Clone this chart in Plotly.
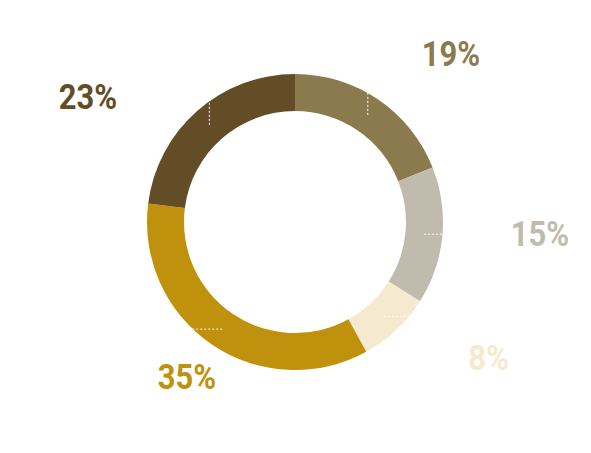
import math
import plotly.graph_objects as go

W, H = 591, 453

labels = ["A", "B", "C", "D", "E"]
values = [19, 15, 8, 35, 23]
colors = ["#8B7A4E", "#C1BBAE", "#F5EAD0", "#C0910C", "#624D26"]
label_text = ["19%", "15%", "8%", "35%", "23%"]

# label anchor positions (pixels, from top-left)
label_pos = [(451, 54), (540, 234), (488, 358), (187, 377), (88, 97)]

cx, cy, R, r_in = 295, 222, 148, 111
hole = r_in / R

fig = go.Figure(go.Pie(
    labels=labels, values=values, sort=False, direction="clockwise", rotation=0,
    hole=hole, marker=dict(colors=colors, line=dict(width=0)),
    textinfo="none", hoverinfo="none", showlegend=False,
    domain=dict(x=[(cx - R) / W, (cx + R) / W], y=[(H - cy - R) / H, (H - cy + R) / H]),
))

def px(x, y):
    return x / W, 1 - y / H

shapes = []
annotations = []
total = sum(values)
cum = 0
for i, v in enumerate(values):
    mid = (cum + v / 2) / total * 2 * math.pi
    cum += v
    rm = (R + r_in) / 2
    sx = cx + rm * math.sin(mid)
    sy = cy - rm * math.cos(mid)
    lx, ly = label_pos[i]
    if ly < cy - R * 0.5:
        pts = [(sx, sy), (sx, ly), (lx, ly)]
    else:
        pts = [(sx, sy), (lx, sy), (lx, ly)]
    path = "M " + " L ".join(f"{px(x, y)[0]},{px(x, y)[1]}" for x, y in pts)
    shapes.append(dict(type="path", path=path, xref="paper", yref="paper",
                       line=dict(color="white", width=1, dash="2px,2px"), layer="above"))
    ax, ay = px(lx, ly)
    annotations.append(dict(x=ax, y=ay, xref="paper", yref="paper", text=label_text[i],
                            showarrow=False, xanchor="center", yanchor="middle",
                            font=dict(family="Roboto, sans-serif",
                                      size=36, color=colors[i], weight="bold")))

fig.update_layout(width=W, height=H, margin=dict(l=0, r=0, t=0, b=0),
                  paper_bgcolor="white", plot_bgcolor="white",
                  shapes=shapes, annotations=annotations)

post = """
var s = document.createElement('style');
s.textContent = 'body{margin:0 !important;} text.annotation-text{transform-box:fill-box;transform-origin:center;transform:scaleX(0.86);}';
document.head.appendChild(s);
"""
fig.write_html("out.html", post_script=post, config={"displayModeBar": False})
